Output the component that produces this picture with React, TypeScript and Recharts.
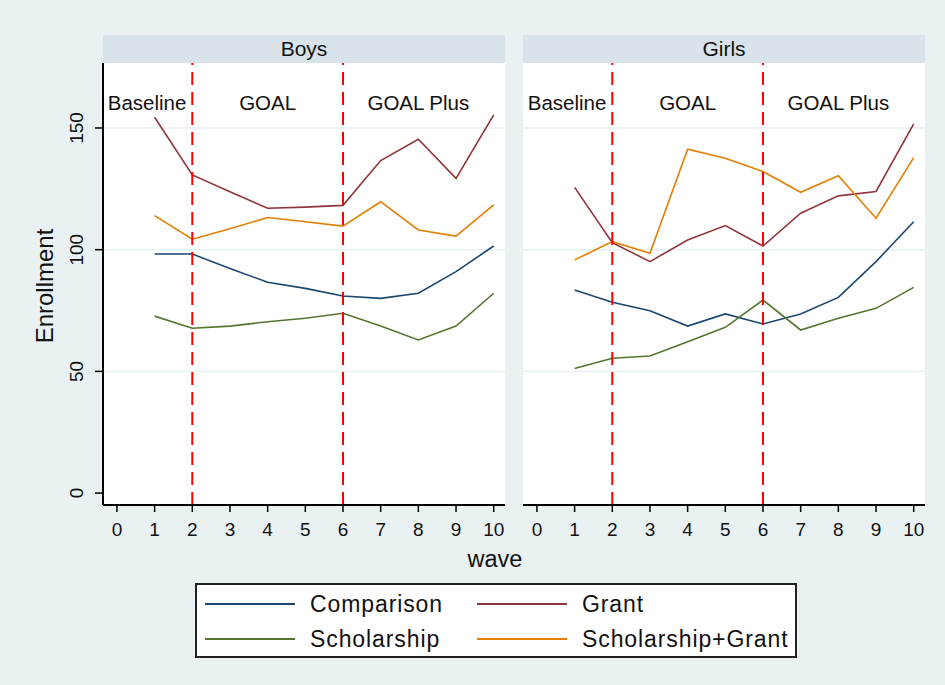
import React from 'react';
import { LineChart, Line, XAxis, YAxis, ReferenceLine, ReferenceDot } from 'recharts';

const waves = [1, 2, 3, 4, 5, 6, 7, 8, 9, 10];
const xTicks = [0, 1, 2, 3, 4, 5, 6, 7, 8, 9, 10];
const yTicks = [0, 50, 100, 150];
const gridValues = [50, 100, 150];
const phaseBreaks = [2, 6];
const phaseLabels = ['Baseline', 'GOAL', 'GOAL Plus'];
const phaseLabelX = [0.8, 4, 8];
const phaseLabelY = 160.5;
const panelTitles = ['Boys', 'Girls'];
const seriesNames = ['Comparison', 'Grant', 'Scholarship', 'Scholarship+Grant'];
const seriesColors = ['#1a476f', '#90353b', '#55752f', '#e37e00'];

const boysComparison = [98.2, 98.2, 92.3, 86.6, 84.1, 81.0, 80.0, 82.1, 91.0, 101.5];
const boysGrant = [154.4, 130.7, 123.8, 117.0, 117.5, 118.2, 136.6, 145.4, 129.3, 155.4];
const boysScholarship = [72.7, 67.7, 68.6, 70.4, 71.8, 73.9, 68.6, 62.9, 68.6, 82.1];
const boysScholarshipGrant = [114.0, 104.3, 108.6, 113.2, 111.5, 109.7, 119.7, 108.1, 105.6, 118.4];

const girlsComparison = [83.4, 78.4, 74.9, 68.6, 73.6, 69.5, 73.6, 80.4, 95.1, 111.5];
const girlsGrant = [125.6, 102.9, 95.1, 104.0, 109.9, 101.5, 115.0, 122.1, 123.9, 151.7];
const girlsScholarship = [51.2, 55.4, 56.3, 62.2, 68.1, 79.3, 67.0, 71.8, 75.9, 84.5];
const girlsScholarshipGrant = [95.8, 103.3, 98.5, 141.3, 137.6, 132.1, 123.6, 130.4, 112.9, 137.8];

const FONT = '"Liberation Sans", Arial, sans-serif';
const OUTER_BG = '#eaf1f3';
const STRIP_BG = '#d8e4e9';

const X_DOMAIN: [number, number] = [-0.37, 10.3];
const Y_DOMAIN: [number, number] = [-4.9, 176.7];

function buildRows(series: number[][]) {
  return waves.map((w, i) => {
    const row: any = { wave: w };
    series.forEach((s, k) => {
      row['s' + k] = s[i];
    });
    return row;
  });
}

const boysRows = buildRows([boysComparison, boysGrant, boysScholarship, boysScholarshipGrant]);
const girlsRows = buildRows([girlsComparison, girlsGrant, girlsScholarship, girlsScholarshipGrant]);

const YTick = (props: any) => {
  const { y, payload } = props;
  const cx = 77;
  return (
    <text
      x={cx}
      y={y}
      transform={`rotate(-90 ${cx} ${y})`}
      textAnchor="middle"
      dominantBaseline="central"
      fontSize={19}
      fill="#111"
      fontFamily={FONT}
    >
      {payload.value}
    </text>
  );
};

type PanelProps = {
  title: string;
  rows: any[];
  chartLeft: number;
  chartWidth: number;
  marginLeft: number;
  marginRight: number;
  showY: boolean;
  plotLeft: number;
};

const PLOT_TOP = 63;
const PLOT_BOTTOM = 505;
const PLOT_WIDTH = 402;

function Panel(p: PanelProps) {
  return (
    <>
      <div
        style={{
          position: 'absolute',
          left: p.plotLeft,
          top: 35,
          width: PLOT_WIDTH,
          height: 28,
          background: STRIP_BG,
          fontFamily: FONT,
          fontSize: 21,
          color: '#111',
          textAlign: 'center',
          lineHeight: '28px',
        }}
      >
        {p.title}
      </div>
      <div
        style={{
          position: 'absolute',
          left: p.plotLeft,
          top: PLOT_TOP,
          width: PLOT_WIDTH,
          height: PLOT_BOTTOM - PLOT_TOP,
          background: '#ffffff',
        }}
      />
      <div style={{ position: 'absolute', left: p.chartLeft, top: 0 }}>
        <LineChart
          width={p.chartWidth}
          height={545}
          data={p.rows}
          margin={{ top: PLOT_TOP, right: p.marginRight, left: p.marginLeft, bottom: 0 }}
        >
          <XAxis
            dataKey="wave"
            type="number"
            domain={X_DOMAIN}
            ticks={xTicks}
            allowDataOverflow
            height={40}
            tickSize={7}
            tickMargin={11}
            axisLine={{ stroke: '#000', strokeWidth: 2 }}
            tickLine={{ stroke: '#000', strokeWidth: 1.5 }}
            tick={{ fill: '#111', fontSize: 19, fontFamily: FONT }}
            interval={0}
          />
          <YAxis
            type="number"
            domain={Y_DOMAIN}
            ticks={yTicks}
            allowDataOverflow
            width={103}
            hide={!p.showY}
            tickSize={8}
            axisLine={{ stroke: '#000', strokeWidth: 2 }}
            tickLine={{ stroke: '#000', strokeWidth: 1.5 }}
            tick={<YTick />}
            interval={0}
          />
          {gridValues.map((g) => (
            <ReferenceLine key={'g' + g} y={g} stroke="#e6eff1" strokeWidth={1.5} />
          ))}
          {seriesNames.map((name, k) => (
            <Line
              key={name}
              dataKey={'s' + k}
              name={name}
              type="linear"
              stroke={seriesColors[k]}
              strokeWidth={1.6}
              dot={false}
              activeDot={false}
              isAnimationActive={false}
            />
          ))}
          {phaseBreaks.map((b) => (
            <ReferenceLine
              key={'b' + b}
              x={b}
              stroke="#ff0000"
              strokeWidth={2}
              strokeDasharray="13 7"
            />
          ))}
          {phaseLabels.map((lab, i) => (
            <ReferenceDot
              key={lab}
              x={phaseLabelX[i]}
              y={phaseLabelY}
              r={0}
              shape={(sp: any) => (
                <text
                  x={sp.cx}
                  y={sp.cy + 7.5}
                  textAnchor="middle"
                  fontSize={20.5}
                  fill="#111"
                  fontFamily={FONT}
                >
                  {lab}
                </text>
              )}
            />
          ))}
        </LineChart>
      </div>
    </>
  );
}

export default function App() {
  return (
    <div
      style={{
        position: 'absolute',
        left: 0,
        top: 0,
        width: 945,
        height: 685,
        background: OUTER_BG,
        overflow: 'hidden',
      }}
    >
      <Panel
        title={panelTitles[0]}
        rows={boysRows}
        chartLeft={0}
        chartWidth={510}
        marginLeft={0}
        marginRight={5}
        showY={true}
        plotLeft={103}
      />
      <Panel
        title={panelTitles[1]}
        rows={girlsRows}
        chartLeft={513}
        chartWidth={412}
        marginLeft={10}
        marginRight={0}
        showY={false}
        plotLeft={523}
      />
      <svg
        width={945}
        height={685}
        style={{ position: 'absolute', left: 0, top: 0, pointerEvents: 'none' }}
        fontFamily={FONT}
      >
        <text x={53} y={286} transform="rotate(-90 53 286)" textAnchor="middle" fontSize={24} fill="#111">
          Enrollment
        </text>
        <text x={495} y={567} textAnchor="middle" fontSize={23.5} fill="#111">
          wave
        </text>
        <rect x={196} y={584} width={600} height={73} fill="#ffffff" stroke="#222" strokeWidth={2} />
        {seriesNames.map((name, k) => {
          const col = k % 2;
          const row = Math.floor(k / 2);
          const lx = col === 0 ? 205 : 477;
          const tx = col === 0 ? 310 : 582;
          const ly = row === 0 ? 604 : 639;
          const ty = row === 0 ? 612 : 647;
          return (
            <g key={name}>
              <line x1={lx} x2={lx + 90} y1={ly} y2={ly} stroke={seriesColors[k]} strokeWidth={2} />
              <text x={tx} y={ty} fontSize={23} letterSpacing={0.9} fill="#111">
                {name}
              </text>
            </g>
          );
        })}
      </svg>
    </div>
  );
}
